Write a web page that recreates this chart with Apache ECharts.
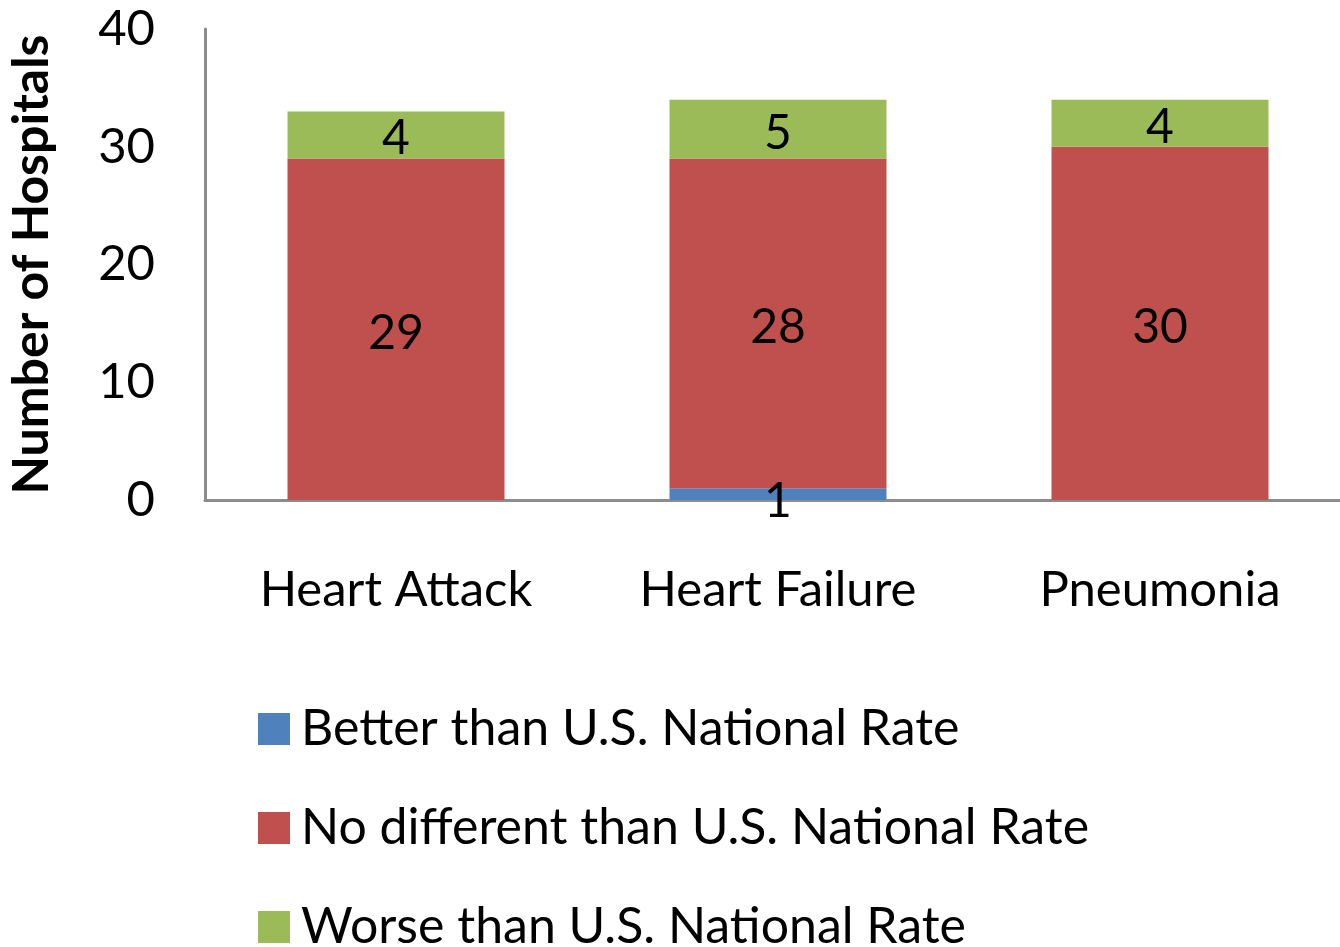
<!DOCTYPE html>
<html>
<head>
<meta charset="utf-8">
<script src="https://cdn.jsdelivr.net/npm/echarts@6/dist/echarts.min.js"></script>
<style>html,body{margin:0;padding:0;background:#fff}#c{width:1340px;height:947px}</style>
</head>
<body>
<div id="c"></div>
<script>
const categories = ['Heart Attack', 'Heart Failure', 'Pneumonia'];
const better = [0, 1, 0];
const noDifferent = [29, 28, 30];
const worse = [4, 5, 4];
const seriesNames = ['Better than U.S. National Rate', 'No different than U.S. National Rate', 'Worse than U.S. National Rate'];
const colors = ['#4F81BD', '#C0504D', '#9BBB59'];

const FONT = 'Lato';
const chart = echarts.init(document.getElementById('c'), null, {renderer: 'canvas'});
const labelCfg = {
  show: true, position: 'inside', color: '#000', fontSize: 48, fontFamily: FONT,
  offset: [0, 4],
  formatter: p => (p.value ? String(p.value) : '')
};
const mk = (name, data, color, extra) => ({
  name, type: 'bar', stack: 'total', data, barWidth: 217,
  itemStyle: {color}, label: Object.assign({}, labelCfg, extra || {}), emphasis: {disabled: true}
});
const legendBase = {
  orient: 'vertical', left: 258, padding: 0,
  itemWidth: 32, itemHeight: 32,
  icon: 'rect',
  textStyle: {fontSize: 50, color: '#000', fontFamily: FONT, padding: [0, 0, 0, 6]}
};
chart.setOption({
  animation: false,
  textStyle: {fontFamily: FONT},
  grid: {left: 205, top: 29, width: 1146, bottom: 447, containLabel: false, outerBoundsMode: 'none'},
  xAxis: {
    type: 'category', data: categories,
    axisLine: {lineStyle: {color: '#8c8c8c', width: 3}},
    axisTick: {show: false},
    axisLabel: {color: '#000', fontSize: 49, fontFamily: FONT, margin: 66}
  },
  yAxis: {
    type: 'value', min: 0, max: 40, interval: 10,
    name: 'Number of Hospitals', nameLocation: 'middle', nameGap: 148,
    nameTextStyle: {fontSize: 50, fontWeight: 'bold', color: '#000', fontFamily: FONT},
    axisLine: {show: true, lineStyle: {color: '#8c8c8c', width: 3}},
    axisTick: {show: false},
    splitLine: {show: false},
    axisLabel: {color: '#000', fontSize: 49, fontFamily: FONT, margin: 50}
  },
  legend: [
    Object.assign({}, legendBase, {top: 704, data: [seriesNames[0]]}),
    Object.assign({}, legendBase, {top: 803, data: [seriesNames[1]]}),
    Object.assign({}, legendBase, {top: 902, data: [seriesNames[2]]})
  ],
  series: [
    mk(seriesNames[0], better, colors[0], {offset: [0, 7]}),
    mk(seriesNames[1], noDifferent, colors[1]),
    mk(seriesNames[2], worse, colors[2])
  ]
});
</script>
</body>
</html>
